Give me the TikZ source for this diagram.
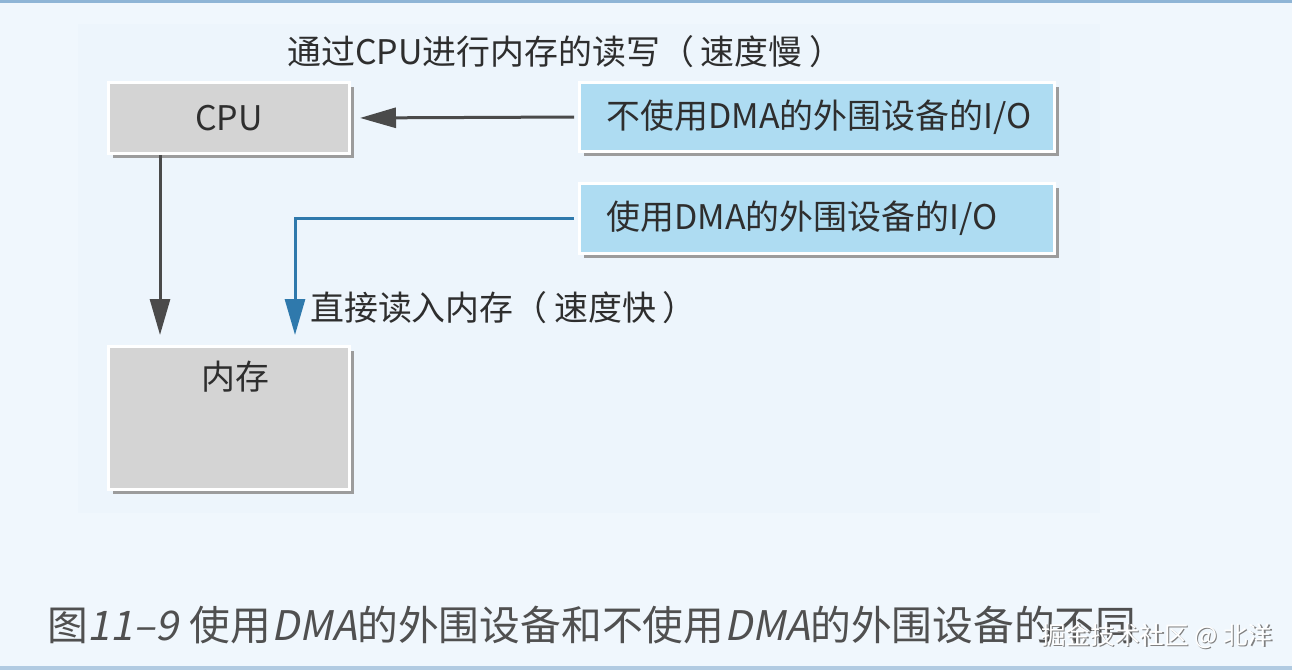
\documentclass[tikz,border=0pt]{standalone}
\usepackage{fontspec}
\setmainfont{Noto Sans CJK SC}
\newfontfamily\capslant{Noto Sans CJK SC}[FakeSlant=0.2]
\usepackage{tikz}
\usetikzlibrary{arrows.meta, shadows, positioning}
\definecolor{pagebg}{HTML}{F0F7FD}
\definecolor{panelbg}{HTML}{EDF5FC}
\definecolor{rulecol}{HTML}{8FB5D6}
\definecolor{boxgray}{HTML}{D4D4D4}
\definecolor{boxblue}{HTML}{AEDCF2}
\definecolor{shadowgray}{HTML}{9C9C9C}
\definecolor{arrowgray}{HTML}{4A4A4A}
\definecolor{arrowblue}{HTML}{2F79AC}
\definecolor{textgray}{HTML}{2E2E2E}
\definecolor{capgray}{HTML}{505050}
\tikzset{
  unitbox/.style={draw=white, line width=0.06cm, text=textgray,
    drop shadow={shadow xshift=0.09cm, shadow yshift=-0.09cm, fill=shadowgray, opacity=1}},
  devbox/.style={unitbox, fill=boxblue, minimum height=1.38cm, inner xsep=0.54cm,
    text width=8.42cm, align=left},
  flow/.style={line width=0.06cm, -{Triangle[length=0.72cm, width=0.4cm]}},
  midtext/.style={font=\fontsize{19.3}{23}\selectfont, text=textgray}
}
\begin{document}
\begin{tikzpicture}
  \useasboundingbox (0,0) rectangle (25.84,-13.4);
  % page and panel
  \fill[pagebg] (0,0) rectangle (25.84,-13.4);
  \fill[panelbg] (1.56,-0.48) rectangle (22,-10.26);
  \fill[rulecol] (0,0) rectangle (25.84,-0.07);
  \fill[rulecol!70] (0,-13.32) rectangle (25.84,-13.4);
  % CPU and memory
  \node[unitbox, fill=boxgray, minimum width=4.82cm, minimum height=1.42cm, midtext]
    (cpu) at (4.58,-2.36) {CPU};
  \node[unitbox, fill=boxgray, minimum width=4.82cm, minimum height=2.86cm]
    (mem) at (4.58,-8.36) {};
  \node[midtext] (memtxt) at ([xshift=0.12cm, yshift=-0.64cm]mem.north) {内存};
  % peripherals
  \node[devbox, midtext] (nodma) at (16.34,-2.34) {不使用DMA的外围设备的I/O};
  \node[devbox, midtext] (dma) at (16.34,-4.37) {使用DMA的外围设备的I/O};
  % labels
  \node[midtext, anchor=west] (slowtxt) at (5.62,-1.04)
    {通过CPU进行内存的读写（\hspace{0.2em}速度慢\hspace{0.2em}）};
  \node[midtext, anchor=west] (fasttxt) at (6.08,-6.16)
    {直接读入内存（\hspace{0.2em}速度快\hspace{0.2em}）};
  % connectors
  \coordinate (cpux) at (3.2,0);
  \coordinate (dmax) at (5.9,0);
  \draw[flow, arrowgray, shorten <=0.08cm, shorten >=0.18cm] (nodma.west) -- (cpu.east);
  \draw[flow, arrowgray, shorten >=0.2cm] (cpu.south -| cpux) -- (mem.north -| cpux);
  \draw[flow, arrowblue, shorten <=0.08cm, shorten >=0.2cm] (dma.west) -| (mem.north -| dmax);
  % caption and watermark
  \node[anchor=west, text=capgray, font=\fontsize{23.2}{28}\selectfont] (caption) at (0.82,-12.5)
    {图{\capslant 11–9}\hspace{0.3em}使用{\capslant DMA}的外围设备和不使用{\capslant DMA}的外围设备的不同};
  \node[anchor=west, text=gray, font=\fontsize{14}{17}\selectfont] (markshade) at (20.73,-12.75)
    {掘金技术社区 @ 北洋};
  \node[anchor=west, text=white, font=\fontsize{14}{17}\selectfont] (mark) at (20.7,-12.72)
    {掘金技术社区 @ 北洋};
\end{tikzpicture}
\end{document}
